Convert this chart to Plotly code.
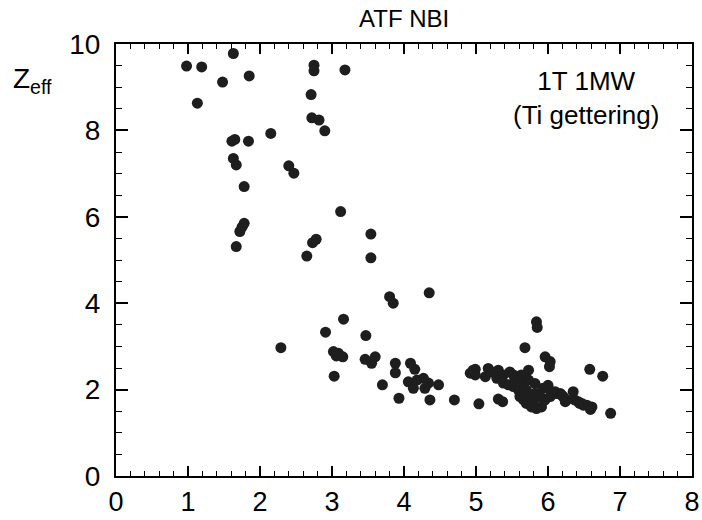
import plotly.graph_objects as go

# Fast-ion beam power / Zeff scatter (ATF NBI, 1T 1MW, Ti gettering)
x_vals = [
    1.63, 0.98, 1.19, 1.48, 1.85, 2.75, 2.75, 3.18, 1.13, 2.71, 2.72, 2.82, 2.90, 2.15,
    1.61, 1.65, 1.84, 1.63, 1.67, 2.40, 2.47, 1.78, 3.12, 1.78, 1.75, 1.72, 3.54, 2.78,
    2.73, 1.67, 2.65, 3.54,
    3.80, 3.85, 3.16, 2.91, 3.47, 2.29, 3.02, 3.09, 3.15, 3.06, 3.46, 3.60, 3.55, 3.03,
    3.88, 3.88, 3.70, 3.93, 4.35,
    4.09, 4.15, 4.06, 4.18, 4.27, 4.13, 4.29, 4.34, 4.48, 4.36, 4.70, 4.92, 4.99, 5.04,
    5.31, 5.37, 4.96, 4.99, 5.17, 5.22, 5.13, 5.31, 5.29, 5.38, 5.47, 5.52, 5.54, 5.73,
    5.63, 5.38, 5.45,
    5.84, 5.85, 5.68, 5.96, 6.03, 6.02, 6.58, 6.76, 6.87,
    5.52, 5.59, 5.61, 5.66, 5.70, 5.77, 5.84, 5.91, 5.75, 5.70, 5.82, 5.89, 5.96, 6.00,
    6.03, 6.10, 6.17, 6.21, 6.26, 6.35, 6.37, 6.42, 6.47, 6.54, 6.61, 5.66, 5.82, 5.93,
    5.73, 6.12, 5.80, 6.05, 6.19, 6.24, 6.44, 6.49, 6.59,
]
z_eff = [
    9.78, 9.49, 9.47, 9.12, 9.26, 9.51, 9.38, 9.40, 8.63, 8.83, 8.29, 8.24, 7.99, 7.93,
    7.75, 7.79, 7.75, 7.35, 7.20, 7.18, 7.01, 6.70, 6.12, 5.85, 5.76, 5.66, 5.60, 5.48,
    5.40, 5.31, 5.09, 5.05,
    4.15, 4.00, 3.63, 3.33, 3.25, 2.97, 2.88, 2.84, 2.76, 2.78, 2.70, 2.76, 2.61, 2.31,
    2.61, 2.39, 2.11, 1.80, 4.24,
    2.61, 2.47, 2.18, 2.22, 2.26, 2.03, 2.03, 2.15, 2.11, 1.76, 1.76, 2.38, 2.47, 1.67,
    1.78, 1.72, 2.45, 2.34, 2.49, 2.41, 2.30, 2.45, 2.26, 2.34, 2.41, 2.34, 2.22, 2.45,
    2.34, 2.15, 2.11,
    3.57, 3.44, 2.97, 2.76, 2.65, 2.53, 2.47, 2.31, 1.45,
    2.07, 1.99, 1.84, 1.76, 1.68, 1.60, 1.56, 1.60, 1.84, 1.99, 1.91, 1.84, 1.76, 2.10,
    1.84, 1.95, 1.91, 1.84, 1.76, 1.95, 1.76, 1.72, 1.68, 1.64, 1.60, 2.14, 2.14, 2.03,
    2.22, 1.91, 1.74, 1.95, 1.87, 1.72, 1.68, 1.64, 1.54,
]

title_text = "ATF NBI"
condition_lines = ["1T 1MW", "(Ti gettering)"]
x_ticks = [0, 1, 2, 3, 4, 5, 6, 7, 8]
y_ticks = [0, 2, 4, 6, 8, 10]

FONT = "Liberation Sans, Arial, Helvetica, sans-serif"

fig = go.Figure()
fig.add_trace(go.Scatter(
    x=x_vals, y=z_eff, mode="markers",
    marker=dict(size=11, color="#1e1e1e", line=dict(width=0)),
    showlegend=False,
))

axis_common = dict(
    showline=True, linecolor="black", linewidth=2, mirror="allticks",
    ticks="inside", tickcolor="black", tickwidth=1.5,
    showgrid=False, zeroline=False, automargin=False,
)

fig.update_xaxes(
    range=[0, 8], tickvals=x_ticks, ticklen=10, ticklabelstandoff=1,
    tickfont=dict(family=FONT, size=27, color="black"),
    minor=dict(ticks="inside", dtick=0.2, ticklen=5, tickcolor="black", tickwidth=1.2),
    **axis_common,
)
fig.update_yaxes(
    range=[0, 10], tickvals=y_ticks, ticklen=12, ticklabelstandoff=8,
    tickfont=dict(family=FONT, size=28, color="black"),
    minor=dict(ticks="inside", dtick=0.5, ticklen=6, tickcolor="black", tickwidth=1.2),
    **axis_common,
)

fig.add_annotation(
    text=title_text, xref="paper", yref="paper", x=0.5, y=1.0, yshift=26,
    showarrow=False, font=dict(family=FONT, size=24, color="black"),
    xanchor="center", yanchor="middle",
)
fig.add_annotation(
    text="<br>".join(condition_lines), xref="paper", yref="paper",
    x=0.816, y=0.875, showarrow=False, align="center",
    font=dict(family=FONT, size=26, color="black"),
    xanchor="center", yanchor="middle",
)
fig.add_annotation(
    text="Z<sub>eff</sub>", xref="paper", yref="paper",
    x=0.0, xshift=-105, y=0.915, showarrow=False,
    font=dict(family=FONT, size=28, color="black"),
    xanchor="left", yanchor="middle",
)

fig.update_layout(
    width=702, height=520,
    margin=dict(l=116, r=10, t=44, b=44),
    plot_bgcolor="white", paper_bgcolor="white",
)

fig.write_html("out.html")
